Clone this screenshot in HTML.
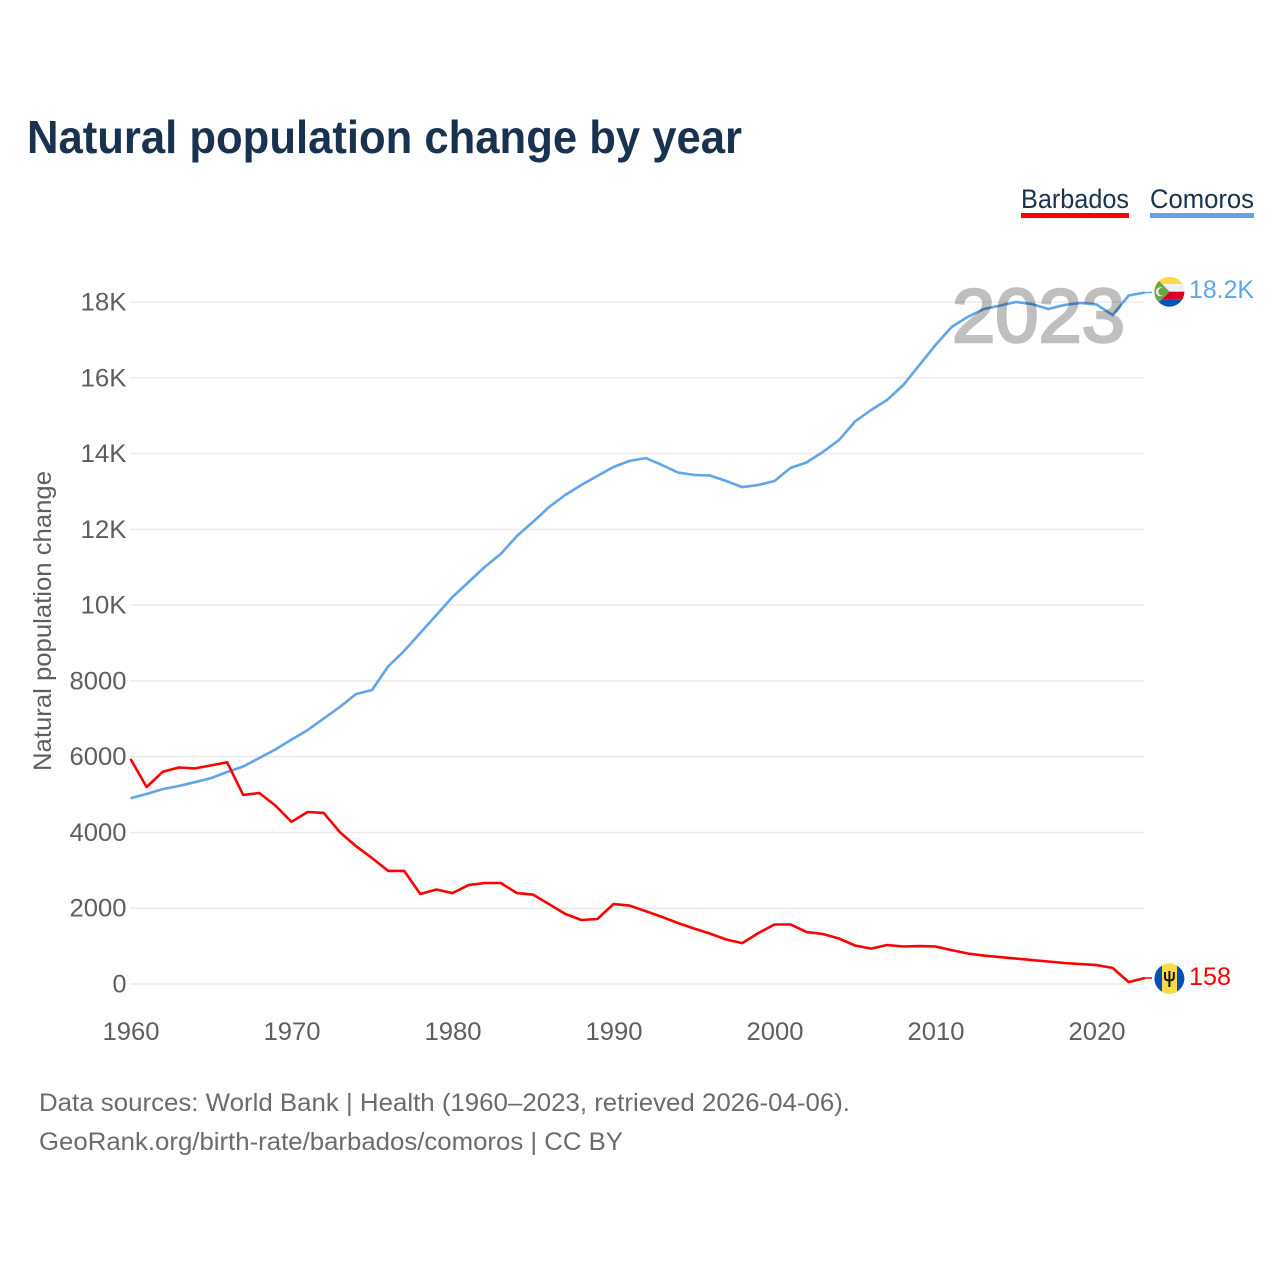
<!DOCTYPE html>
<html lang="en">
<head>
<meta charset="utf-8">
<title>Natural population change by year</title>
<style>
html,body{margin:0;padding:0;background:#fff}
svg{display:block}
text{font-family:"Liberation Sans",sans-serif}
</style>
</head>
<body>
<svg id="chart" xmlns="http://www.w3.org/2000/svg" width="1280" height="1280" viewBox="0 0 1280 1280">
  <defs>
    <clipPath id="flag-clip-km"><circle cx="1169.4" cy="291.7" r="15"/></clipPath>
    <clipPath id="flag-clip-bb"><circle cx="1169.4" cy="978.6" r="15"/></clipPath>
  </defs>
  <rect width="1280" height="1280" fill="#fff"/>
  <text x="27" y="153" font-size="46" font-weight="700" fill="#18324f" textLength="715" lengthAdjust="spacingAndGlyphs">Natural population change by year</text>

  <g>
    <text x="1021" y="208" font-size="27" fill="#18324f" textLength="108" lengthAdjust="spacingAndGlyphs">Barbados</text>
    <rect x="1021" y="213" width="108" height="5" fill="#ff0000"/>
  </g>
  <g>
    <text x="1150" y="208" font-size="27" fill="#18324f" textLength="104" lengthAdjust="spacingAndGlyphs">Comoros</text>
    <rect x="1150" y="213" width="104" height="5" fill="#60a5ec"/>
  </g>

  <g id="grid"></g>
  <g id="y-ticks"></g>
  <g id="x-ticks"></g>
  <text transform="translate(51 621) rotate(-90)" text-anchor="middle" font-size="25" fill="#5e5e5e" textLength="300" lengthAdjust="spacingAndGlyphs">Natural population change</text>

  <g id="series"></g>

  <text x="952" y="342" font-size="76" font-weight="400" fill="#bfbfbf" stroke="#bfbfbf" stroke-width="2.6" style="mix-blend-mode:multiply" textLength="173" lengthAdjust="spacingAndGlyphs">2023</text>

  <g clip-path="url(#flag-clip-km)">
    <rect x="1154" y="276" width="31" height="8" fill="#ffda44"/>
    <rect x="1154" y="284" width="31" height="7.7" fill="#f0f0f0"/>
    <rect x="1154" y="291.7" width="31" height="7.5" fill="#d80027"/>
    <rect x="1154" y="299.2" width="31" height="8" fill="#0052b4"/>
    <polygon points="1154,276 1169.6,291.700 1154,307.4" fill="#6da544"/>
    <circle cx="1160.5" cy="291.7" r="4.6" fill="#f0f0f0"/>
    <circle cx="1162.2" cy="291.7" r="3.9" fill="#6da544"/>
  </g>
  <g clip-path="url(#flag-clip-bb)">
    <rect x="1154" y="963" width="31" height="31" fill="#0052b4"/>
    <rect x="1162" y="963" width="15" height="31" fill="#ffda44"/>
    <path d="M1169.4 971v16M1165 972v5.5q0 3 4.4 3t4.4-3v-5.500" fill="none" stroke="#111" stroke-width="2"/>
  </g>
  <text id="end-label-comoros" x="1189" y="298" font-size="25" fill="#60a5ec" textLength="65" lengthAdjust="spacingAndGlyphs">18.2K</text>
  <text id="end-label-barbados" x="1189" y="985" font-size="25" fill="#ff0000" textLength="42" lengthAdjust="spacingAndGlyphs">158</text>

  <text x="39" y="1111" font-size="25" fill="#6b6b6b" textLength="811" lengthAdjust="spacingAndGlyphs">Data sources: World Bank | Health (1960–2023, retrieved 2026-04-06).</text>
  <text x="39" y="1150" font-size="25" fill="#6b6b6b" textLength="584" lengthAdjust="spacingAndGlyphs">GeoRank.org/birth-rate/barbados/comoros | CC BY</text>
</svg>
<script>
var startYear = 1960;
var barbados = [5940,5200,5600,5715,5690,5770,5850,4990,5040,4710,4280,4540,4515,4010,3640,3325,2985,2985,2375,2495,2400,2610,2665,2665,2400,2360,2110,1850,1690,1715,2110,2070,1925,1770,1610,1465,1330,1175,1080,1345,1570,1570,1370,1320,1200,1015,935,1030,990,1000,990,895,805,750,710,670,630,595,555,525,500,425,50,158];
var comoros = [4900,5015,5145,5225,5325,5435,5595,5740,5965,6190,6450,6700,7005,7310,7650,7760,8380,8790,9265,9740,10215,10610,11005,11350,11825,12195,12590,12905,13170,13410,13645,13805,13880,13700,13500,13435,13420,13275,13115,13170,13275,13620,13765,14040,14355,14845,15150,15415,15810,16335,16865,17340,17605,17815,17905,18000,17945,17815,17920,17975,17935,17655,18170,18250];
var yTickValues = [0,2000,4000,6000,8000,10000,12000,14000,16000,18000];
var yTickLabels = ["0","2000","4000","6000","8000","10K","12K","14K","16K","18K"];
var xTickYears = [1960,1970,1980,1990,2000,2010,2020];

var NS = "http://www.w3.org/2000/svg";
function xScale(year){ return 130.5 + (year - 1960) * 16.1; }
function yScale(value){ return 984 - value * 0.03789; }
function labelWidth(label){ return label.length === 4 ? 57 : label.length === 3 ? 46 : 14; }
function make(tag, attrs, parent, text){
  var el = document.createElementNS(NS, tag);
  for (var k in attrs) el.setAttribute(k, attrs[k]);
  if (text !== undefined) el.textContent = text;
  parent.appendChild(el);
  return el;
}
var gridGroup = document.getElementById("grid");
var yGroup = document.getElementById("y-ticks");
var xGroup = document.getElementById("x-ticks");
var seriesGroup = document.getElementById("series");

yTickValues.forEach(function(v, i){
  var line = make("line", {x1:130, x2:1144, y1:yScale(v), y2:yScale(v), stroke:"#ebebeb", "stroke-width":1.5}, gridGroup);
  
  
  var w = labelWidth(yTickLabels[i]);
  var label = make("text", {x:126.5 - w, y:yScale(v) + 8.5, "font-size":25, fill:"#5e5e5e", textLength:w, lengthAdjust:"spacingAndGlyphs"}, yGroup, yTickLabels[i]);
  
  
});
xTickYears.forEach(function(year){
  var label = make("text", {x:xScale(year) - 28, y:1040, "font-size":25, fill:"#5e5e5e", textLength:57, lengthAdjust:"spacingAndGlyphs"}, xGroup, String(year));
  
  
});
function pathFor(values){
  return values.map(function(v, i){
    return (i ? "L" : "M") + xScale(startYear + i).toFixed(1) + " " + yScale(v).toFixed(1);
  }).join("");
}
var comorosLine = make("path", {d:pathFor(comoros), fill:"none", stroke:"#60a5ec", "stroke-width":2.6, "stroke-linejoin":"round"}, seriesGroup);


var barbadosLine = make("path", {d:pathFor(barbados), fill:"none", stroke:"#ff0000", "stroke-width":2.6, "stroke-linejoin":"round"}, seriesGroup);


var lastC = comoros[comoros.length - 1];
var lastB = barbados[barbados.length - 1];
var lastX = xScale(startYear + comoros.length - 1);
var connC = make("line", {x1:lastX, x2:1152, y1:yScale(lastC), y2:yScale(lastC), stroke:"#60a5ec", "stroke-width":1.5}, seriesGroup);


var connB = make("line", {x1:lastX, x2:1152, y1:yScale(lastB), y2:yScale(lastB), stroke:"#ff0000", "stroke-width":1.5}, seriesGroup);


</script>
</body>
</html>
